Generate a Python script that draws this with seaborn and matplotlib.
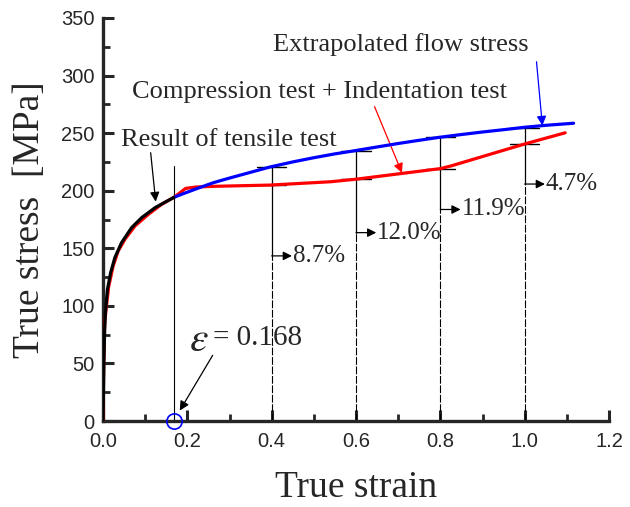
import numpy as np
import pandas as pd
import seaborn as sns
import matplotlib.pyplot as plt
from matplotlib.ticker import MultipleLocator

# tensile test curve (black)
tensile_strain = [0.0, 0.002, 0.004, 0.0056, 0.0104, 0.018, 0.028, 0.044, 0.068, 0.092, 0.124, 0.168]
tensile_stress = [0.0, 50.0, 80.0, 93.7, 114.0, 128.7, 141.8, 154.9, 168.0, 176.7, 185.4, 194.2]

# compression + indentation test curve (red)
comp_strain = [0.0, 0.0016, 0.004, 0.008, 0.0136, 0.024, 0.036, 0.052, 0.076, 0.108, 0.14, 0.168,
               0.196, 0.22, 0.262, 0.396, 0.54, 0.6, 0.8, 0.825, 1.0, 1.096]
comp_stress = [0.0, 50.0, 85.0, 99.6, 117.0, 134.5, 147.6, 157.8, 169.4, 179.6, 188.4, 194.2,
               202.0, 203.2, 203.8, 204.9, 207.8, 210.0, 219.2, 221.5, 240.6, 250.3]

# extrapolated flow stress (blue)
flow_strain = [0.168, 0.183, 0.22, 0.262, 0.3, 0.35, 0.396, 0.45, 0.499, 0.55, 0.598, 0.65, 0.7,
               0.75, 0.796, 0.85, 0.9, 0.95, 0.997, 1.05, 1.116]
flow_stress = [194.2, 196.4, 201.5, 207.0, 211.0, 216.0, 220.6, 225.0, 228.6, 232.0, 234.8, 238.0,
               241.0, 243.8, 246.3, 248.8, 251.0, 253.0, 255.0, 256.8, 258.6]

# guide lines and deviations
guide_x = [0.4, 0.6, 0.8, 1.0]
upper_cap = [220.9, 234.8, 246.3, 254.9]
lower_cap = [204.9, 209.9, 219.2, 240.6]
arrow_y = [143.4, 163.6, 183.7, 205.8]
pct_labels = ['8.7%', '12.0%', '11.9%', '4.7%']

eps_star = 0.168
eps_line_top = 221.6

sns.set_style('ticks')
plt.rcParams['font.family'] = ['Liberation Sans', 'DejaVu Sans']
plt.rcParams['mathtext.fontset'] = 'stix'
serif = ['Liberation Serif', 'DejaVu Serif']

fig = plt.figure(figsize=(6.3, 5.07), dpi=100)
ax = fig.add_axes([0.1635, 0.1696, 0.8032, 0.7949])

# vertical guide at eps = 0.168
ax.plot([eps_star, eps_star], [0, eps_line_top], color='black', lw=0.8, zorder=1)

# vertical guides: dashed below the arrow, solid above
for x, top, low, ay, lab in zip(guide_x, upper_cap, lower_cap, arrow_y, pct_labels):
    ax.plot([x, x], [0, ay], color='black', lw=0.8, ls=(0, (7, 1.5)), zorder=1)
    ax.plot([x, x], [ay, top], color='black', lw=0.9, zorder=1)
    ax.plot([x - 0.035, x + 0.035], [top, top], color='black', lw=1.0, zorder=1)
    ax.plot([x - 0.035, x + 0.035], [low, low], color='black', lw=1.0, zorder=1)
    ax.annotate('', xy=(x + 0.048, ay), xytext=(x, ay),
                arrowprops=dict(arrowstyle='-|>', color='black', lw=0.9,
                                mutation_scale=13, shrinkA=0, shrinkB=0))
    ax.text(x + 0.05, ay, lab, fontsize=18, family=serif, va='center', ha='left')

sns.lineplot(x=comp_strain, y=comp_stress, sort=False, estimator=None, color='#ff0000', lw=2.3, ax=ax, zorder=3)
sns.lineplot(x=flow_strain, y=flow_stress, sort=False, estimator=None, color='#0000ff', lw=2.3, ax=ax, zorder=4)
sns.lineplot(x=tensile_strain, y=tensile_stress, sort=False, estimator=None, color='black', lw=2.3, ax=ax, zorder=5)

# marker at eps = 0.168
ax.plot([eps_star], [0], 'o', mfc='none', mec='#0000ff', mew=1.2, ms=11, clip_on=False, zorder=6)

# annotations
ax.text(0.403, 327, 'Extrapolated flow stress', fontsize=19, family=serif, va='center', ha='left')
ax.annotate('', xy=(1.042, 256.5), xytext=(1.028, 312),
            arrowprops=dict(arrowstyle='-|>', color='#0000ff', lw=0.9, mutation_scale=14, shrinkA=0, shrinkB=0))
ax.text(0.068, 285.5, 'Compression test + Indentation test', fontsize=19, family=serif, va='center', ha='left')
ax.annotate('', xy=(0.709, 215.5), xytext=(0.644, 273),
            arrowprops=dict(arrowstyle='-|>', color='#ff0000', lw=0.9, mutation_scale=14, shrinkA=0, shrinkB=0))
ax.text(0.043, 244, 'Result of tensile test', fontsize=19, family=serif, va='center', ha='left')
ax.annotate('', xy=(0.125, 190.5), xytext=(0.113, 233),
            arrowprops=dict(arrowstyle='-|>', color='black', lw=0.9, mutation_scale=14, shrinkA=0, shrinkB=0))
ax.text(0.205, 70, r'$\varepsilon$', fontsize=30, va='center', ha='left')
ax.text(0.262, 72, '= 0.168', fontsize=21, family=serif, va='center', ha='left')
ax.annotate('', xy=(0.182, 9), xytext=(0.26, 57),
            arrowprops=dict(arrowstyle='-|>', color='black', lw=0.9, mutation_scale=14, shrinkA=0, shrinkB=0))

ax.set_xlim(0, 1.2)
ax.set_ylim(0, 350)
ax.xaxis.set_major_locator(MultipleLocator(0.2))
ax.xaxis.set_minor_locator(MultipleLocator(0.1))
ax.yaxis.set_major_locator(MultipleLocator(50))
ax.yaxis.set_minor_locator(MultipleLocator(25))
ax.xaxis.set_major_formatter(lambda v, p: f'{v:.1f}')
ax.tick_params(which='major', direction='in', length=8, width=2.2, labelsize=14.5)
ax.tick_params(which='minor', direction='in', length=5, width=2.0)
ax.tick_params(axis='x', which='major', pad=8)
ax.tick_params(axis='y', which='major', pad=6)
sns.despine(ax=ax)
for s in ['left', 'bottom']:
    ax.spines[s].set_linewidth(2.4)

ax.set_xlabel('True strain', fontsize=27, family=serif, labelpad=14)
ax.set_ylabel('True stress  [MPa]', fontsize=27, family=serif, labelpad=10)

fig.savefig('out.png', dpi=100)
